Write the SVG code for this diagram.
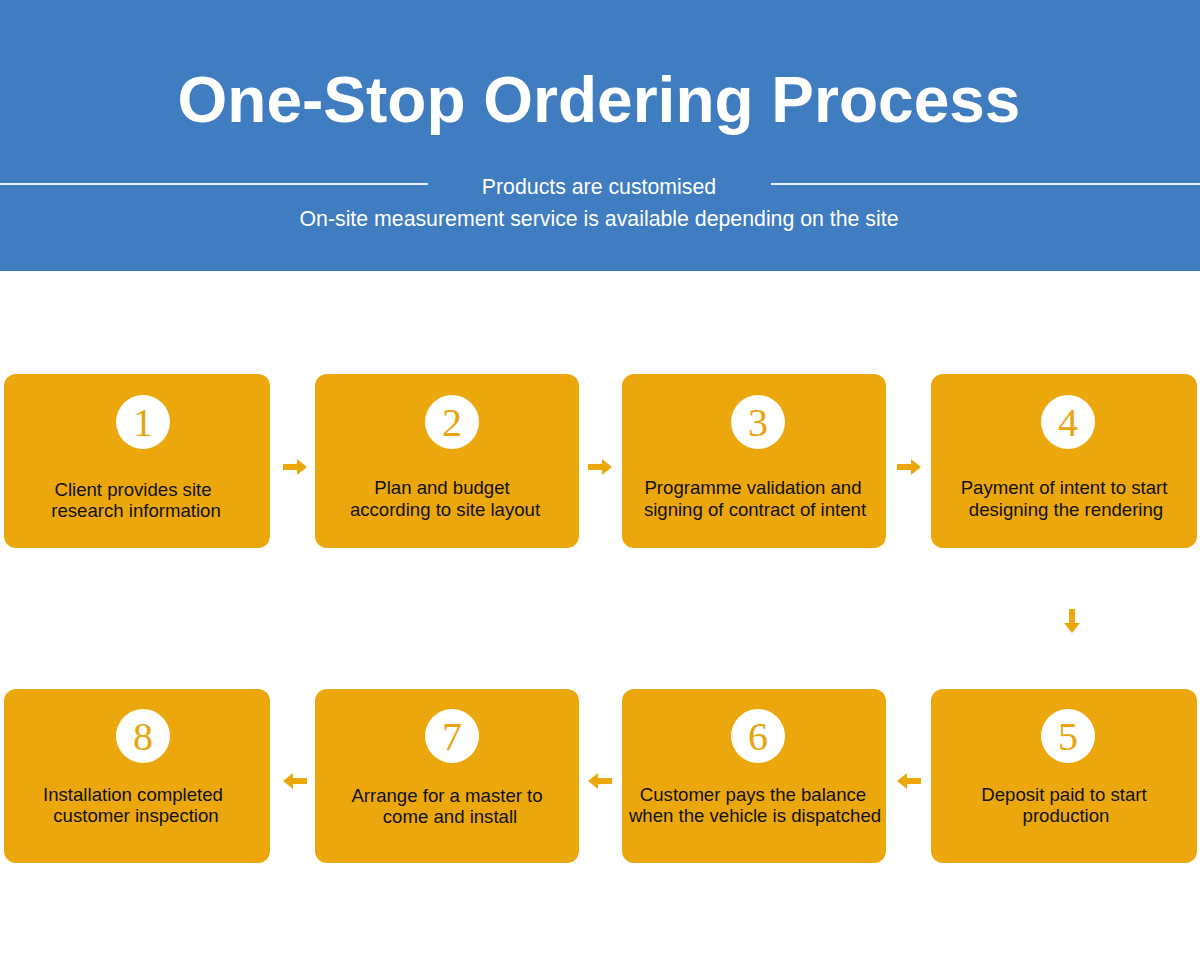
<svg xmlns="http://www.w3.org/2000/svg" width="1200" height="959" viewBox="0 0 1200 959">
<style>
.box{fill:#EBA70B}
.circ{fill:#fff}
.num{font-family:"Liberation Serif","DejaVu Serif",serif;font-size:40px;fill:#E8A30E;text-anchor:middle}
.lbl{font-family:"Liberation Sans",Arial,sans-serif;font-size:18.6px;fill:#111;text-anchor:middle}
.arr{fill:#EBA70B}
</style>
<defs>
<path id="ar" d="M-12,-3 H2 V-8 L12,0 L2,8 V3 H-12 Z"/>
</defs>
<rect x="0" y="0" width="1200" height="271" fill="#3F7CC0"/>
<text x="599" y="122" font-family="Liberation Sans,Arial,sans-serif" font-weight="bold" font-size="64" fill="#fff" text-anchor="middle">One-Stop Ordering Process</text>
<line x1="0" y1="184" x2="428" y2="184" stroke="#E8F0F8" stroke-width="2"/>
<line x1="771" y1="184" x2="1200" y2="184" stroke="#E8F0F8" stroke-width="2"/>
<text x="599" y="194" font-family="Liberation Sans,Arial,sans-serif" font-size="21.3" fill="#fff" text-anchor="middle">Products are customised</text>
<text x="599" y="226" font-family="Liberation Sans,Arial,sans-serif" font-size="21.3" fill="#fff" text-anchor="middle">On-site measurement service is available depending on the site</text>

<g id="n1"><rect class="box" x="4" y="374" width="266" height="174" rx="12"/><circle class="circ" cx="143" cy="422" r="27"/><text class="num" x="143" y="436">1</text><text class="lbl" x="133" y="496">Client provides site</text><text class="lbl" x="136" y="517">research information</text></g>
<g id="n2"><rect class="box" x="315" y="374" width="264" height="174" rx="12"/><circle class="circ" cx="452" cy="422" r="27"/><text class="num" x="452" y="436">2</text><text class="lbl" x="442" y="494">Plan and budget</text><text class="lbl" x="445" y="516">according to site layout</text></g>
<g id="n3"><rect class="box" x="622" y="374" width="264" height="174" rx="12"/><circle class="circ" cx="758" cy="422" r="27"/><text class="num" x="758" y="436">3</text><text class="lbl" x="753" y="494">Programme validation and</text><text class="lbl" x="755" y="516">signing of contract of intent</text></g>
<g id="n4"><rect class="box" x="931" y="374" width="266" height="174" rx="12"/><circle class="circ" cx="1068" cy="422" r="27"/><text class="num" x="1068" y="436">4</text><text class="lbl" x="1064" y="494">Payment of intent to start</text><text class="lbl" x="1066" y="516">designing the rendering</text></g>
<g id="n5"><rect class="box" x="931" y="689" width="266" height="174" rx="12"/><circle class="circ" cx="1068" cy="736" r="27"/><text class="num" x="1068" y="750">5</text><text class="lbl" x="1064" y="801">Deposit paid to start</text><text class="lbl" x="1066" y="822">production</text></g>
<g id="n6"><rect class="box" x="622" y="689" width="264" height="174" rx="12"/><circle class="circ" cx="758" cy="736" r="27"/><text class="num" x="758" y="750">6</text><text class="lbl" x="753" y="801">Customer pays the balance</text><text class="lbl" x="755" y="822">when the vehicle is dispatched</text></g>
<g id="n7"><rect class="box" x="315" y="689" width="264" height="174" rx="12"/><circle class="circ" cx="452" cy="736" r="27"/><text class="num" x="452" y="750">7</text><text class="lbl" x="447" y="802">Arrange for a master to</text><text class="lbl" x="450" y="823">come and install</text></g>
<g id="n8"><rect class="box" x="4" y="689" width="266" height="174" rx="12"/><circle class="circ" cx="143" cy="736" r="27"/><text class="num" x="143" y="750">8</text><text class="lbl" x="133" y="801">Installation completed</text><text class="lbl" x="136" y="822">customer inspection</text></g>

<g id="connectors" class="arr">
<use href="#ar" transform="translate(295,467)"/>
<use href="#ar" transform="translate(600,467)"/>
<use href="#ar" transform="translate(909,467)"/>
<use href="#ar" transform="translate(1072,621) rotate(90)"/>
<use href="#ar" transform="translate(909,781) rotate(180)"/>
<use href="#ar" transform="translate(600,781) rotate(180)"/>
<use href="#ar" transform="translate(295,781) rotate(180)"/>
</g>
</svg>
